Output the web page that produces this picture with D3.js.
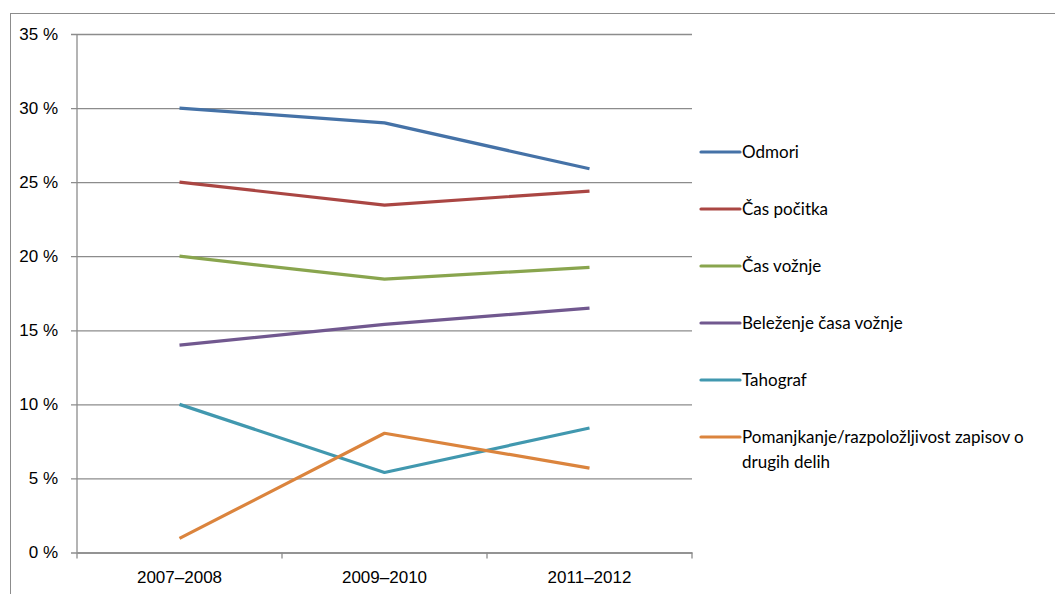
<!DOCTYPE html>
<html>
<head>
<meta charset="utf-8">
<script src="https://cdn.jsdelivr.net/npm/d3@7"></script>
<style>
  body { margin: 0; background: #fff; }
  svg { display: block; font-family: Lato, "Open Sans", sans-serif; }
</style>
</head>
<body>
<svg id="chart"></svg>
<script>
  // data
  const periods = ["2007–2008", "2009–2010", "2011–2012"];
  const seriesNames = ["Odmori", "Čas počitka", "Čas vožnje", "Beleženje časa vožnje", "Tahograf", "Pomanjkanje/razpoložljivost zapisov o drugih delih"];
  const odmori = [30, 29, 25.9];
  const casPocitka = [25, 23.45, 24.4];
  const casVoznje = [20, 18.45, 19.25];
  const belezenje = [14, 15.4, 16.5];
  const tahograf = [10, 5.4, 8.4];
  const pomanjkanje = [0.95, 8.05, 5.7];
  const yTicks = [0, 5, 10, 15, 20, 25, 30, 35];
  const colors = ["#4572A7", "#AA4643", "#89A54E", "#71588F", "#4198AF", "#DB843D"];

  const values = [odmori, casPocitka, casVoznje, belezenje, tahograf, pomanjkanje];
  const series = seriesNames.map((name, i) => ({name, values: values[i], color: colors[i]}));

  const width = 1055, height = 594;
  const margin = {left: 77, right: 363, top: 34, bottom: 41.5};
  const fontSize = "17px";

  const svg = d3.select("#chart")
      .attr("width", width)
      .attr("height", height);

  // outer chart frame
  svg.append("rect")
      .attr("x", 10.5).attr("y", 13.5)
      .attr("width", 1100).attr("height", 700)
      .attr("fill", "none")
      .attr("stroke", "#8c8c8c")
      .attr("stroke-width", 1);

  const x = d3.scaleBand()
      .domain(periods)
      .range([margin.left, width - margin.right]);

  const y = d3.scaleLinear()
      .domain([0, 35])
      .range([height - margin.bottom, margin.top]);

  // gridlines + y axis
  const yAxis = svg.append("g")
      .attr("transform", `translate(${margin.left},0)`)
      .call(d3.axisLeft(y)
        .tickValues(yTicks)
        .tickSize(-(width - margin.right - margin.left))
        .tickFormat(d => d + " %"));
  yAxis.select(".domain").remove();
  yAxis.selectAll(".tick line")
      .attr("x1", -6)
      .attr("stroke", "#8c8c8c")
      .attr("stroke-width", 1.3);
  yAxis.selectAll("text")
      .attr("x", -19)
      .attr("fill", "#000")
      .style("font-size", fontSize);

  // vertical axis line
  svg.append("line")
      .attr("x1", margin.left).attr("x2", margin.left)
      .attr("y1", margin.top).attr("y2", y(0))
      .attr("stroke", "#8c8c8c")
      .attr("stroke-width", 1.3);

  // x axis with ticks between categories
  const xAxis = svg.append("g")
      .attr("transform", `translate(0,${y(0)})`)
      .call(d3.axisBottom(x).tickSize(0).tickPadding(18));
  xAxis.select(".domain")
      .attr("stroke", "#8c8c8c")
      .attr("stroke-width", 1.3);
  xAxis.selectAll("text")
      .attr("fill", "#000")
      .style("font-size", fontSize);
  const bounds = periods.map(p => x(p)).concat([x(periods[periods.length - 1]) + x.bandwidth()]);
  xAxis.selectAll(".sep")
    .data(bounds)
    .join("line")
      .attr("x1", d => d).attr("x2", d => d)
      .attr("y1", 0).attr("y2", 6)
      .attr("stroke", "#8c8c8c")
      .attr("stroke-width", 1.3);

  // lines
  const line = d3.line()
      .x((d, i) => x(periods[i]) + x.bandwidth() / 2)
      .y(d => y(d));

  svg.append("g")
    .selectAll("path")
    .data(series)
    .join("path")
      .attr("d", d => line(d.values))
      .attr("fill", "none")
      .attr("stroke", d => d.color)
      .attr("stroke-width", 3.2)
      .attr("stroke-linejoin", "round");

  // legend
  const legend = svg.append("g")
      .attr("transform", "translate(701,152)");
  const item = legend.selectAll("g")
    .data(series)
    .join("g")
      .attr("transform", (d, i) => `translate(0,${i * 57})`);
  item.append("line")
      .attr("x1", 0).attr("x2", 39)
      .attr("stroke", d => d.color)
      .attr("stroke-width", 3.2)
      .attr("stroke-linecap", "round");
  item.append("text")
      .attr("x", 41)
      .attr("dy", "0.35em")
      .style("font-size", fontSize)
      .attr("fill", "#000")
      .each(function(d) {
        const t = d3.select(this);
        if (d.name.length > 40) {
          t.append("tspan").attr("x", 41).text("Pomanjkanje/razpoložljivost zapisov o");
          t.append("tspan").attr("x", 41).attr("dy", 25).text("drugih delih");
        } else {
          t.text(d.name);
        }
      });
</script>
</body>
</html>
